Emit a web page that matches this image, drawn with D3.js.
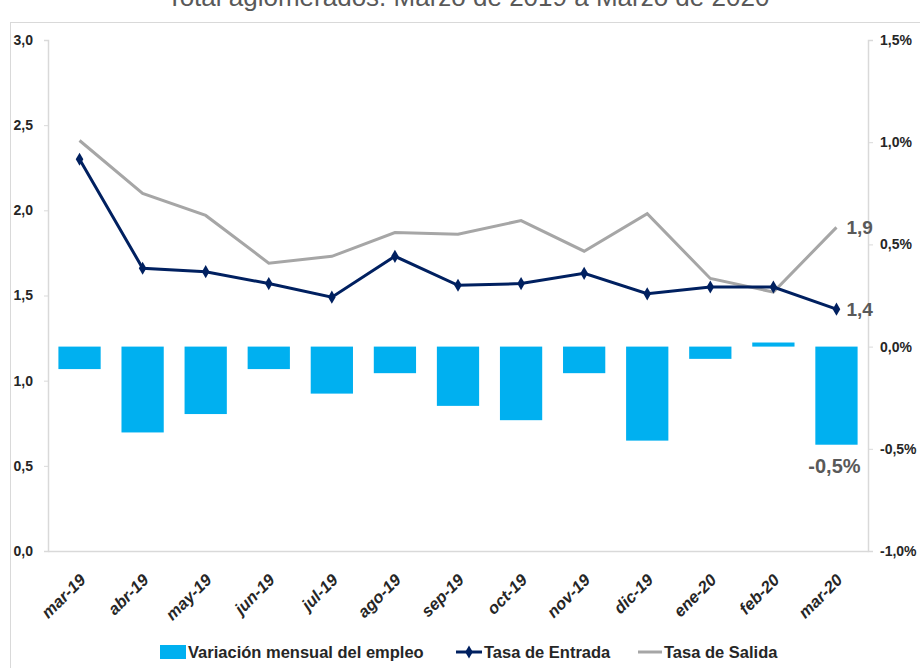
<html>
<head>
<meta charset="utf-8">
<script src="https://cdn.jsdelivr.net/npm/d3@7"></script>
<style>
  body { margin: 0; background: #fff; }
  text { font-family: "Liberation Sans", Arial, sans-serif; }
</style>
</head>
<body>
<div id="chart"></div>
<script>
// categories
var months = ['mar-19','abr-19','may-19','jun-19','jul-19','ago-19','sep-19','oct-19','nov-19','dic-19','ene-20','feb-20','mar-20'];
// variacion mensual del empleo (%), right axis
var variacion = [-0.11,-0.42,-0.33,-0.11,-0.23,-0.13,-0.29,-0.36,-0.13,-0.46,-0.06,0.02,-0.48];
// tasas (left axis)
var entrada = [2.30,1.66,1.64,1.57,1.49,1.73,1.56,1.57,1.63,1.51,1.55,1.55,1.42];
var salida  = [2.41,2.10,1.97,1.69,1.73,1.87,1.86,1.94,1.76,1.98,1.60,1.52,1.90];
var leftTicks = [0,0.5,1,1.5,2,2.5,3];
var rightTicks = [-1,-0.5,0,0.5,1,1.5];

var width = 920, height = 668;
var plotLeft = 48, plotRight = 868, plotTop = 40, plotBottom = 551;
var comma = function(v, n){ return v.toFixed(n).replace('.', ','); };

var svg = d3.select('#chart').append('svg').attr('width', width).attr('height', height);

// chart area border + clipped title
svg.append('rect').attr('x', 10.5).attr('y', 22.5).attr('width', 930).attr('height', 700)
    .attr('fill', 'none').attr('stroke', '#d9d9d9');
svg.append('text').attr('x', 468).attr('y', 6).attr('text-anchor', 'middle')
    .style('font-size', '26px').style('fill', '#595959')
    .text('Total aglomerados. Marzo de 2019 a Marzo de 2020');

var x = d3.scaleBand().domain(months).range([plotLeft, plotRight]).paddingInner(0.33).paddingOuter(0.165);
var yL = d3.scaleLinear().domain([0, 3]).range([plotBottom, plotTop]);
var yR = d3.scaleLinear().domain([-1, 1.5]).range([plotBottom, plotTop]);
var cx = function(m){ return x(m) + x.bandwidth() / 2; };

// bars
svg.append('g').selectAll('rect').data(months).enter().append('rect')
    .attr('x', function(d){ return x(d); })
    .attr('width', x.bandwidth())
    .attr('y', function(d,i){ return yR(Math.max(0, variacion[i])); })
    .attr('height', function(d,i){ return Math.abs(yR(variacion[i]) - yR(0)); })
    .attr('fill', '#00B0F0');

// axes
var axL = svg.append('g').attr('transform', `translate(${plotLeft},0)`)
    .call(d3.axisLeft(yL).tickValues(leftTicks).tickSize(4).tickFormat(function(d){ return comma(d,1); }));
var axR = svg.append('g').attr('transform', `translate(${plotRight},0)`)
    .call(d3.axisRight(yR).tickValues(rightTicks).tickSize(5).tickFormat(function(d){ return comma(d,1) + '%'; }));
var axB = svg.append('g').attr('transform', `translate(0,${plotBottom})`)
    .call(d3.axisBottom(x).tickSize(0).tickSizeOuter(0));
[axL, axR, axB].forEach(function(a){
    a.select('.domain').attr('stroke', '#d9d9d9').attr('stroke-width', 1.5);
    a.selectAll('.tick line').attr('stroke', '#d9d9d9');
    a.selectAll('.tick text').style('font-size', '14px').style('font-weight', 'bold').style('fill', '#262626');
});
axL.selectAll('.tick text').attr('x', -15);
axR.selectAll('.tick text').attr('x', 12);
axB.selectAll('.tick text')
    .attr('text-anchor', 'end')
    .attr('transform', 'translate(3,26) rotate(-45)')
    .attr('dy', '0.35em').attr('y', 0)
    .style('font-size', '16.5px').style('font-style', 'italic');

// lines
var lineL = function(arr){
    return d3.line().x(function(d,i){ return cx(months[i]); }).y(function(d){ return yL(d); })(arr);
};
svg.append('path').attr('d', lineL(salida)).attr('fill', 'none').attr('stroke', '#A6A6A6').attr('stroke-width', 3);
svg.append('path').attr('d', lineL(entrada)).attr('fill', 'none').attr('stroke', '#002060').attr('stroke-width', 3);
svg.append('g').selectAll('path').data(entrada).enter().append('path')
    .attr('d', d3.symbol().type(d3.symbolDiamond).size(50))
    .attr('transform', function(d,i){ return `translate(${cx(months[i])},${yL(d)})`; })
    .attr('fill', '#002060');

// data labels
var last = months.length - 1;
function label(xp, yp, t){
    svg.append('text').attr('x', xp).attr('y', yp).attr('dy', '0.35em')
        .style('font-size', '19px').style('font-weight', 'bold').style('fill', '#595959').text(t);
}
label(cx(months[last]) + 10, yL(salida[last]), comma(salida[last], 1));
label(cx(months[last]) + 10, yL(entrada[last]), comma(entrada[last], 1));
svg.append('text').attr('x', cx(months[last]) - 2).attr('y', yR(variacion[last]) + 21).attr('dy', '0.35em')
    .attr('text-anchor', 'middle')
    .style('font-size', '20px').style('font-weight', 'bold').style('fill', '#595959')
    .text(comma(variacion[last], 1) + '%');

// legend
var lg = svg.append('g').attr('transform', 'translate(0,652)');
lg.append('rect').attr('x', 160).attr('y', -7).attr('width', 26).attr('height', 14).attr('fill', '#00B0F0');
lg.append('text').attr('x', 188).attr('dy', '0.35em').text('Variación mensual del empleo');
lg.append('line').attr('x1', 456).attr('x2', 482).attr('stroke', '#002060').attr('stroke-width', 3);
lg.append('path').attr('d', d3.symbol().type(d3.symbolDiamond).size(50)).attr('transform', 'translate(469,0)').attr('fill', '#002060');
lg.append('text').attr('x', 484).attr('dy', '0.35em').text('Tasa de Entrada');
lg.append('line').attr('x1', 638).attr('x2', 662).attr('stroke', '#A6A6A6').attr('stroke-width', 3);
lg.append('text').attr('x', 664).attr('dy', '0.35em').text('Tasa de Salida');
lg.selectAll('text').style('font-size', '16.5px').style('font-weight', 'bold').style('fill', '#262626');
</script>
</body>
</html>
